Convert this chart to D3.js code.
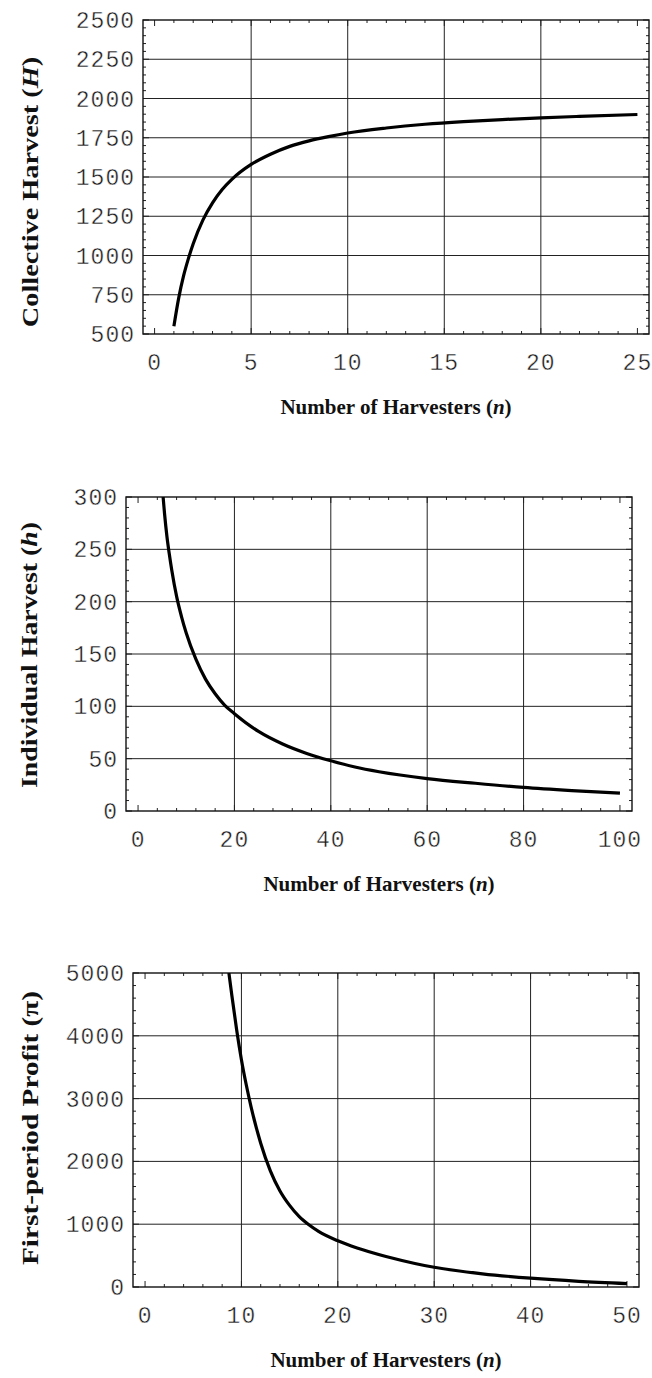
<!DOCTYPE html>
<html>
<head>
<meta charset="utf-8">
<script src="https://cdn.jsdelivr.net/npm/d3@7"></script>
<style>
  body { margin: 0; background: #fff; }
  svg { display: block; }
  .tick-label { font-family: "Liberation Mono", "DejaVu Sans Mono", monospace; font-size: 23px; letter-spacing: 1px; fill: #1a1a1a; stroke: #fff; stroke-width: 0.4px; }
  .axis-title { font-family: "Liberation Serif", "DejaVu Serif", serif; font-size: 21px; font-weight: bold; fill: #111; }
</style>
</head>
<body>
<div id="wrapper"></div>
<script>
// panel 1 - collective harvest
const collectiveN = [1, 1.25, 1.5, 1.75, 2, 2.5, 3, 3.5, 4, 5, 6, 7, 8, 9, 10, 12, 14, 16, 18, 20, 22, 25];
const collectiveH = [550, 730, 870, 980, 1075, 1225, 1335, 1420, 1485, 1580, 1645, 1695, 1730, 1757, 1780, 1812, 1836, 1853, 1866, 1877, 1886, 1898];
const collectiveXTicks = [0, 5, 10, 15, 20, 25];
const collectiveYTicks = [500, 750, 1000, 1250, 1500, 1750, 2000, 2250, 2500];

// panel 2 - individual harvest
const individualN = [5.2, 5.5, 6, 6.5, 7, 8, 9, 10, 12, 14, 16, 18, 20, 25, 30, 35, 40, 45, 50, 60, 70, 80, 90, 100];
const individualH = [300, 284, 262, 245, 230, 205, 186, 170, 145, 126, 112, 101, 93, 76, 64, 55, 48, 42, 37.5, 31, 26.5, 22.5, 19.5, 17];
const individualXTicks = [0, 20, 40, 60, 80, 100];
const individualYTicks = [0, 50, 100, 150, 200, 250, 300];

// panel 3 - first-period profit
const profitN = [8.7, 9, 9.5, 10, 10.5, 11, 12, 13, 14, 15, 16, 17, 18, 20, 22, 25, 28, 30, 35, 40, 45, 50];
const profitPi = [5000, 4650, 4100, 3620, 3220, 2870, 2290, 1850, 1530, 1300, 1120, 990, 885, 735, 620, 485, 375, 315, 210, 140, 90, 55];
const profitXTicks = [0, 10, 20, 30, 40, 50];
const profitYTicks = [0, 1000, 2000, 3000, 4000, 5000];

const svg = d3.select("#wrapper")
  .append("svg")
  .attr("width", 652)
  .attr("height", 1378);

function drawPanel(p) {
  const w = 506, h = 314;
  const g = svg.append("g").attr("transform", `translate(${p.left},${p.top})`);

  const xScale = d3.scaleLinear().domain(p.xDomain).range([0, w]);
  const yScale = d3.scaleLinear().domain(p.yDomain).range([h, 0]);

  const lastX = p.xTicks[p.xTicks.length - 1];
  const xMinor = d3.range(0, lastX + 1e-9, p.xMinorStep);
  const yMinor = d3.range(p.yTicks[0], p.yTicks[p.yTicks.length - 1] + 1e-9, p.yMinorStep);

  // grid lines (interior ticks only)
  g.selectAll(".gx").data(p.xTicks.filter(d => d > 0 && d < lastX))
    .join("line")
    .attr("x1", d => xScale(d)).attr("x2", d => xScale(d))
    .attr("y1", 0).attr("y2", h)
    .attr("stroke", "#222").attr("stroke-width", 1);
  g.selectAll(".gy").data(p.yTicks.filter(d => d > p.yDomain[0] && d < p.yDomain[1]))
    .join("line")
    .attr("x1", 0).attr("x2", w)
    .attr("y1", d => yScale(d)).attr("y2", d => yScale(d))
    .attr("stroke", "#222").attr("stroke-width", 1);

  // frame ticks on all four sides
  const tickG = g.append("g").attr("stroke", "#222").attr("stroke-width", 1);
  const isMajorX = d => p.xTicks.some(t => Math.abs(t - d) < 1e-6);
  const isMajorY = d => p.yTicks.some(t => Math.abs(t - d) < 1e-6);
  xMinor.forEach(d => {
    const len = isMajorX(d) ? 6 : 3;
    tickG.append("line").attr("x1", xScale(d)).attr("x2", xScale(d)).attr("y1", h).attr("y2", h - len);
    tickG.append("line").attr("x1", xScale(d)).attr("x2", xScale(d)).attr("y1", 0).attr("y2", len);
  });
  yMinor.forEach(d => {
    const len = isMajorY(d) ? 6 : 3;
    tickG.append("line").attr("x1", 0).attr("x2", len).attr("y1", yScale(d)).attr("y2", yScale(d));
    tickG.append("line").attr("x1", w).attr("x2", w - len).attr("y1", yScale(d)).attr("y2", yScale(d));
  });

  // frame
  g.append("rect")
    .attr("x", 0).attr("y", 0).attr("width", w).attr("height", h)
    .attr("fill", "none").attr("stroke", "#111").attr("stroke-width", 1.4);

  // curve
  const clipId = "clip" + p.id;
  g.append("clipPath").attr("id", clipId)
    .append("rect").attr("width", w).attr("height", h);
  const pts = p.xs.map((x, i) => [x, p.ys[i]]);
  const lineGenerator = d3.line()
    .x(d => xScale(d[0]))
    .y(d => yScale(d[1]))
    .curve(d3.curveMonotoneX);
  g.append("path")
    .attr("d", lineGenerator(pts))
    .attr("clip-path", `url(#${clipId})`)
    .attr("fill", "none")
    .attr("stroke", "#000")
    .attr("stroke-width", 3.2);

  // tick labels
  g.selectAll(".xl").data(p.xTicks)
    .join("text")
    .attr("class", "tick-label")
    .attr("x", d => xScale(d))
    .attr("y", h + 36)
    .attr("text-anchor", "middle")
    .text(d => d);
  g.selectAll(".yl").data(p.yTicks)
    .join("text")
    .attr("class", "tick-label")
    .attr("x", -8)
    .attr("y", d => yScale(d) + 8)
    .attr("text-anchor", "end")
    .text(d => d);

  // axis titles
  const xt = g.append("text")
    .attr("class", "axis-title")
    .attr("x", w / 2)
    .attr("y", h + 80)
    .attr("text-anchor", "middle");
  xt.append("tspan").text("Number of Harvesters (");
  xt.append("tspan").attr("font-style", "italic").text("n");
  xt.append("tspan").text(")");

  // rotated title is a bit stretched along its length in the original
  const yt = g.append("text")
    .attr("class", "axis-title")
    .style("font-size", "24px")
    .attr("transform", `translate(${p.yTitleX - p.left},${p.yTitleY - p.top}) rotate(-90) scale(${p.yTitleStretch},1)`)
    .attr("text-anchor", "middle");
  yt.append("tspan").text(p.yTitle[0]);
  if (p.yTitle[1]) yt.append("tspan").attr("font-style", "italic").text(p.yTitle[1]);
  yt.append("tspan").text(p.yTitle[2]);
}

drawPanel({
  id: 1, left: 143, top: 20,
  xDomain: [-0.6, 25.6], yDomain: [500, 2500],
  xTicks: collectiveXTicks, yTicks: collectiveYTicks,
  xMinorStep: 1, yMinorStep: 50,
  xs: collectiveN, ys: collectiveH,
  yTitle: ["Collective Harvest (", "H", ")"], yTitleX: 38, yTitleY: 192, yTitleStretch: 1.18
});

drawPanel({
  id: 2, left: 126, top: 497,
  xDomain: [-2.5, 102.5], yDomain: [0, 300],
  xTicks: individualXTicks, yTicks: individualYTicks,
  xMinorStep: 4, yMinorStep: 10,
  xs: individualN, ys: individualH,
  yTitle: ["Individual Harvest (", "h", ")"], yTitleX: 37, yTitleY: 655, yTitleStretch: 1.16
});

drawPanel({
  id: 3, left: 133, top: 973,
  xDomain: [-1.25, 51.25], yDomain: [0, 5000],
  xTicks: profitXTicks, yTicks: profitYTicks,
  xMinorStep: 2, yMinorStep: 200,
  xs: profitN, ys: profitPi,
  yTitle: ["First-period Profit (\u03C0)", "", ""], yTitleX: 38, yTitleY: 1128, yTitleStretch: 1.22
});
</script>
</body>
</html>
